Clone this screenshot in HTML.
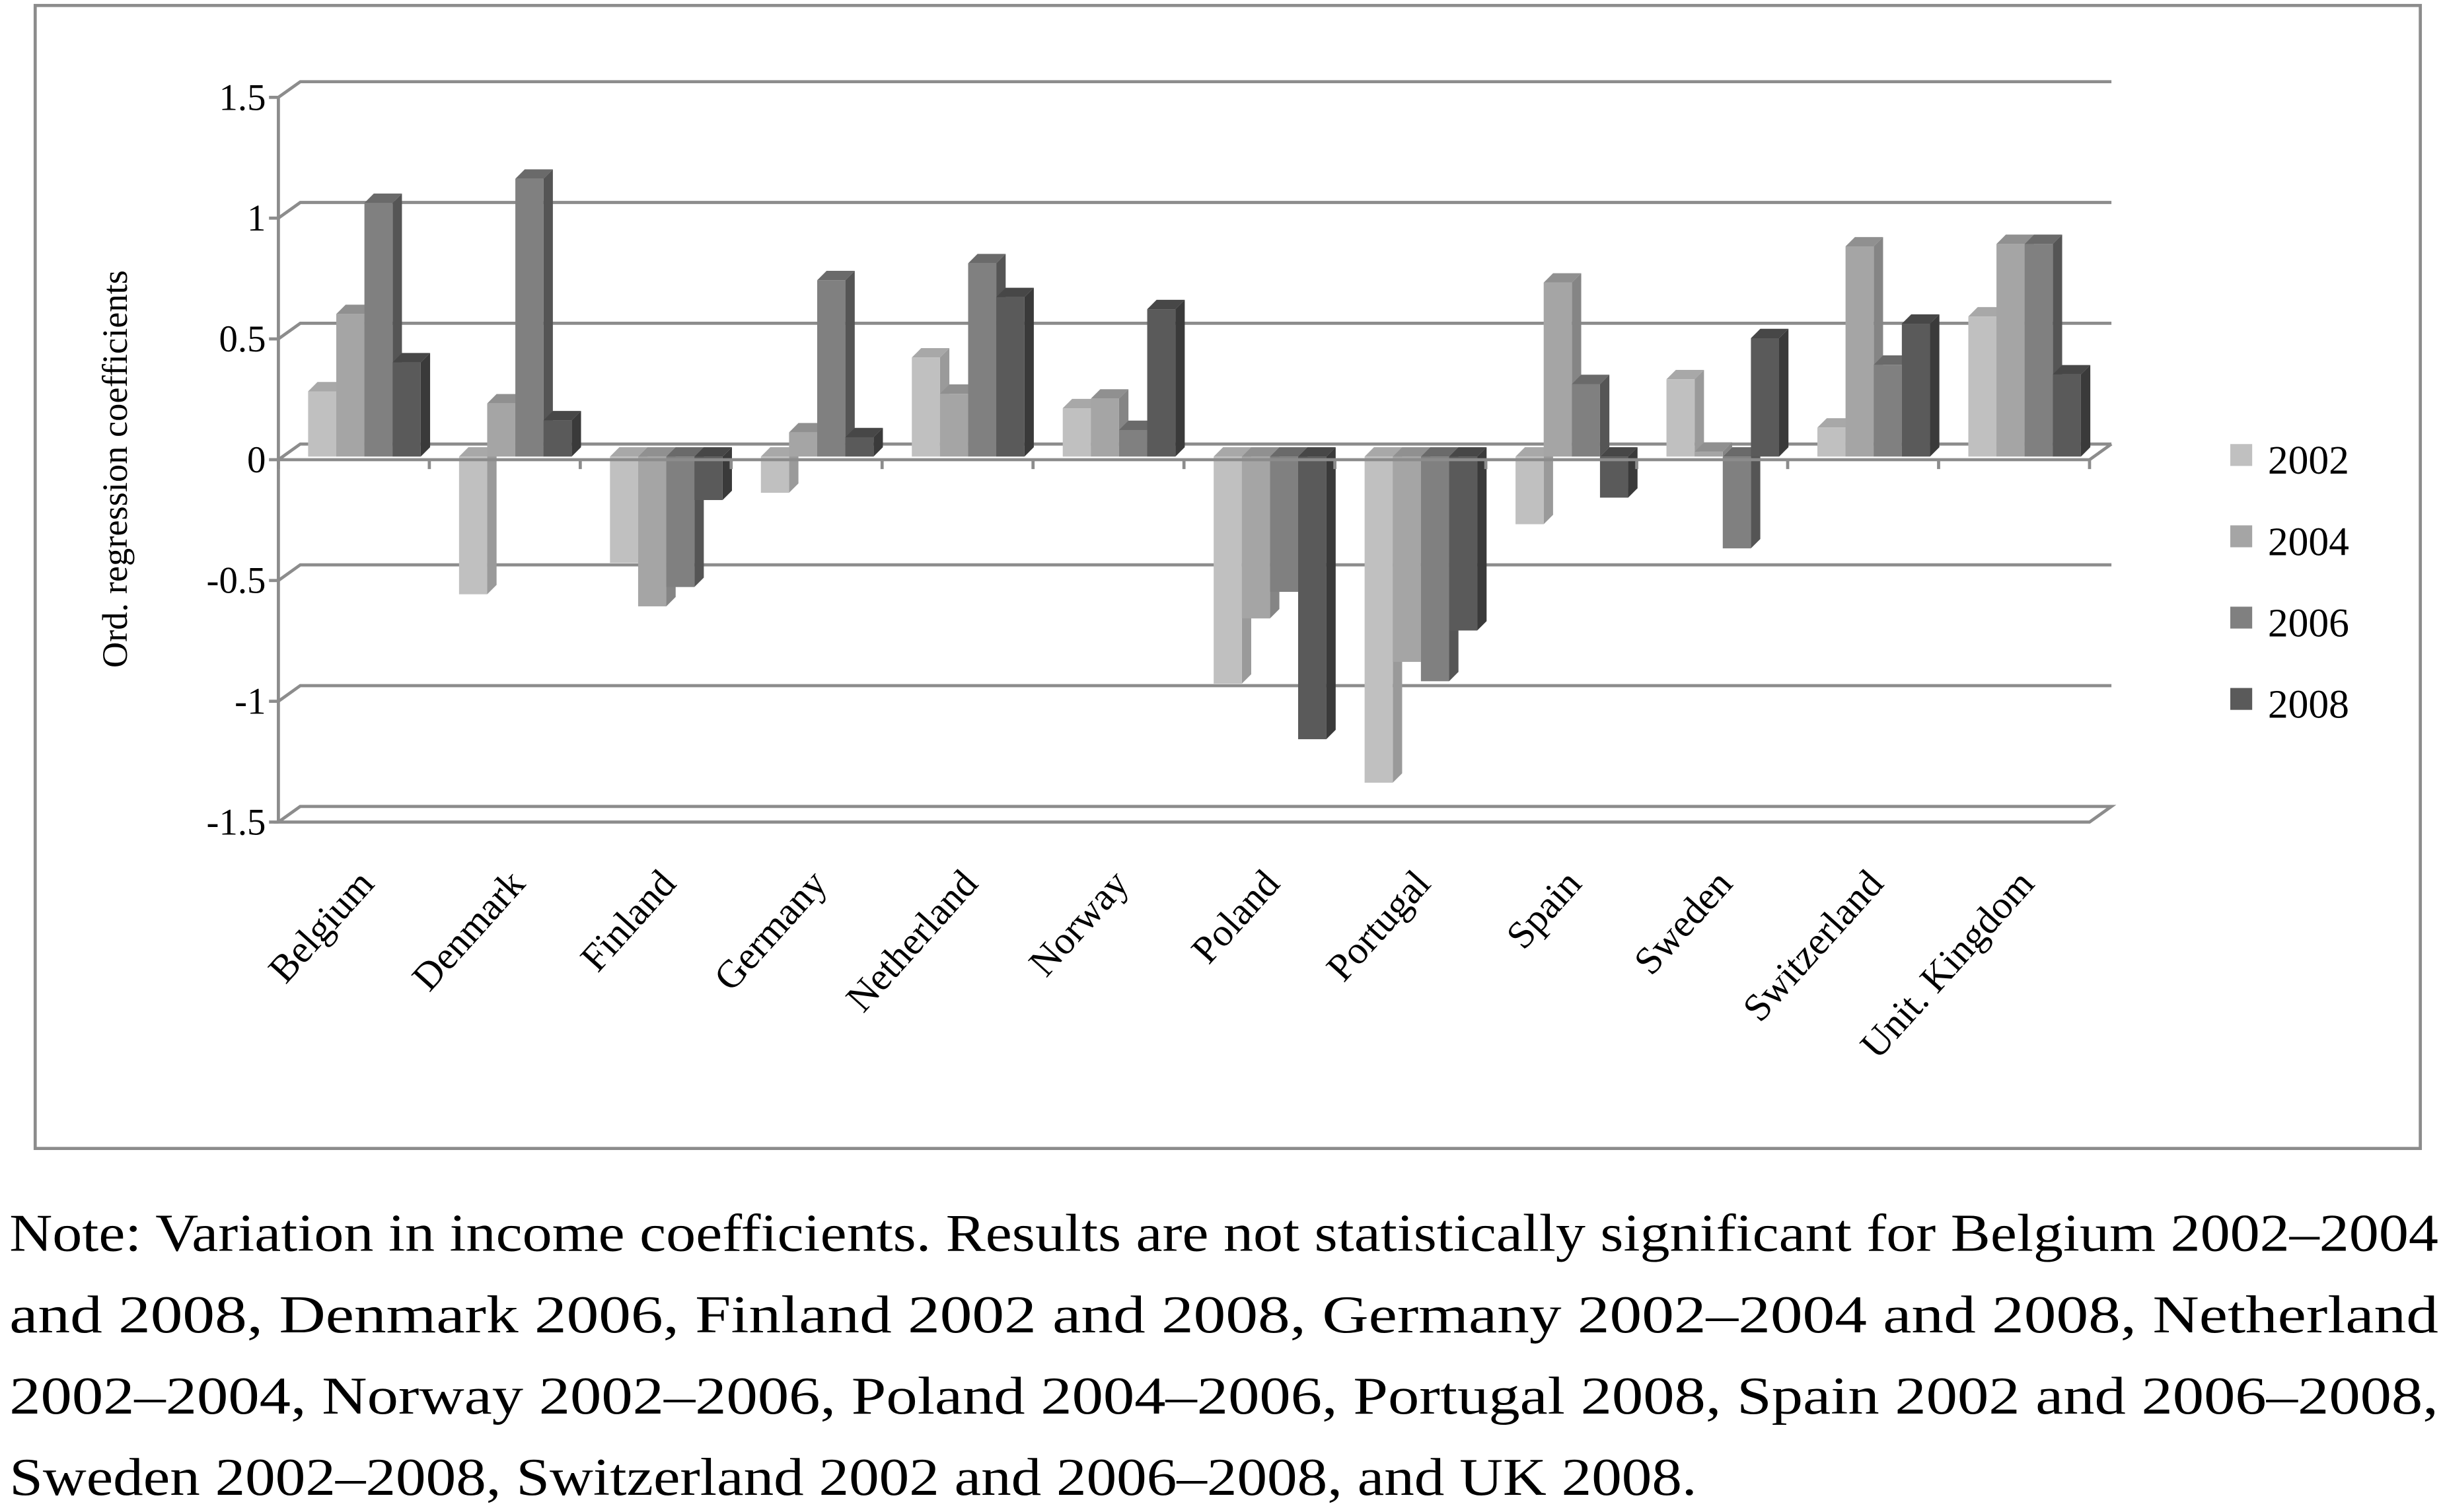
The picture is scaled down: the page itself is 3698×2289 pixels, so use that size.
<!DOCTYPE html>
<html><head><meta charset="utf-8"><style>
html,body{margin:0;padding:0;background:#fff;}
svg{display:block;}
text{font-family:"Liberation Serif","Times New Roman",serif;fill:#000;}
</style></head><body>
<svg id="chart" width="3698" height="2289" viewBox="0 0 1562 967" preserveAspectRatio="none" xmlns="http://www.w3.org/2000/svg" font-family="Liberation Serif, serif">
<rect x="22.5" y="3.5" width="1525" height="731" fill="#fff" stroke="#8c8c8c" stroke-width="2"/>
<g id="grid"></g>
<g id="bars"></g>
<g id="axes"></g>
<text transform="translate(81,300) rotate(-90)" text-anchor="middle" font-size="23">Ord. regression coefficients</text>
<g id="legend"></g>
<g font-size="34">
<text x="6" y="800" textLength="1553" lengthAdjust="spacingAndGlyphs">Note: Variation in income coefficients. Results are not statistically significant for Belgium 2002–2004</text>
<text x="6" y="852" textLength="1553" lengthAdjust="spacingAndGlyphs">and 2008, Denmark 2006, Finland 2002 and 2008, Germany 2002–2004 and 2008, Netherland</text>
<text x="6" y="904" textLength="1553" lengthAdjust="spacingAndGlyphs">2002–2004, Norway 2002–2006, Poland 2004–2006, Portugal 2008, Spain 2002 and 2006–2008,</text>
<text x="6" y="956" textLength="1079" lengthAdjust="spacingAndGlyphs">Sweden 2002–2008, Switzerland 2002 and 2006–2008, and UK 2008.</text>
</g>
</svg>
<script>
const categories=["Belgium","Denmark","Finland","Germany","Netherland","Norway","Poland","Portugal","Spain","Sweden","Switzerland","Unit. Kingdom"];
const seriesNames=["2002","2004","2006","2008"];
const s2002=[0.27,-0.57,-0.44,-0.15,0.41,0.20,-0.94,-1.35,-0.28,0.32,0.12,0.58];
const s2004=[0.59,0.22,-0.62,0.10,0.26,0.24,-0.67,-0.85,0.72,0.02,0.87,0.88];
const s2006=[1.05,1.15,-0.54,0.73,0.80,0.11,-0.56,-0.93,0.30,-0.38,0.38,0.88];
const s2008=[0.39,0.15,-0.18,0.08,0.66,0.61,-1.17,-0.72,-0.17,0.49,0.55,0.34];
const yTicks=[1.5,1,0.5,0,-0.5,-1,-1.5];
const yTickLabels=["1.5","1","0.5","0","-0.5","-1","-1.5"];

const NS="http://www.w3.org/2000/svg";
const series=[s2002,s2004,s2006,s2008];
const front=["#c0c0c0","#a5a5a5","#808080","#5a5a5a"];
const side=["#9a9a9a","#858585","#555555","#3a3a3a"];
const topc=["#a8a8a8","#909090","#6a6a6a","#474747"];
const X0=178,X1=1336,DX=14,DY=-10;
const y=v=>294-(v)*154.5;
const catW=(X1-X0)/categories.length;
const x=i=>X0+i*catW;
function mk(tag,attrs,parent){const e=document.createElementNS(NS,tag);for(const k in attrs)e.setAttribute(k,attrs[k]);parent.appendChild(e);return e;}
const grid=document.getElementById('grid'),bars=document.getElementById('bars'),axes=document.getElementById('axes'),legend=document.getElementById('legend');
yTicks.forEach((t,i)=>{
  const yy=y(t);
  const g=mk('polyline',{points:`${X0},${yy} ${X0+DX},${yy+DY} ${X1+DX},${yy+DY}`,fill:'none',stroke:'#8c8c8c','stroke-width':2},grid);
  
  
  const lb=mk('text',{x:X0-8,y:yy+8,'text-anchor':'end','font-size':24},axes);
  lb.textContent=yTickLabels[i];
  
  
  mk('line',{x1:X0-6,y1:yy,x2:X0,y2:yy,stroke:'#8c8c8c','stroke-width':2},axes);
});
const yb=y(-1.5);
mk('polygon',{points:`${X0},${yb} ${X0+DX},${yb+DY} ${X1+DX},${yb+DY} ${X1},${yb}`,fill:'#fff',stroke:'#8c8c8c','stroke-width':2},grid);
const bw=18,bd=6,off=19;
for(let c=0;c<categories.length;c++){
  for(let s=0;s<4;s++){
    const v=series[s][c];
    const bx=x(c)+off+s*bw;
    const y0=y(0)-2,y1=y(v)-2;
    const top=Math.min(y0,y1),bot=Math.max(y0,y1);
    const g=mk('g',{},bars);
    
    
    mk('polygon',{points:`${bx+bw},${top} ${bx+bw+bd},${top-bd} ${bx+bw+bd},${bot-bd} ${bx+bw},${bot}`,fill:side[s]},g);
    mk('polygon',{points:`${bx},${top} ${bx+bd},${top-bd} ${bx+bw+bd},${top-bd} ${bx+bw},${top}`,fill:topc[s]},g);
    mk('rect',{x:bx,y:top,width:bw,height:Math.max(bot-top,0.5),fill:front[s]},g);
  }
}
mk('line',{x1:X0,y1:y(1.5),x2:X0,y2:y(-1.5),stroke:'#8c8c8c','stroke-width':2},axes);
mk('line',{x1:X0,y1:y(0),x2:X1,y2:y(0),stroke:'#8c8c8c','stroke-width':2},axes);
mk('line',{x1:X1,y1:y(0),x2:X1+DX,y2:y(0)+DY,stroke:'#8c8c8c','stroke-width':2},axes);
for(let c=0;c<=categories.length;c++){mk('line',{x1:x(c),y1:y(0),x2:x(c),y2:y(0)+6,stroke:'#8c8c8c','stroke-width':2},axes);}
categories.forEach((n,c)=>{
  const cx=x(c)+catW/2+14;
  const t=mk('text',{x:cx,y:566,'text-anchor':'end','font-size':25,transform:`rotate(-48 ${cx} 566)`},axes);
  t.textContent=n;
  
  
});
seriesNames.forEach((n,s)=>{
  const ly=294+s*52;
  const g=mk('g',{},legend);
  
  
  mk('rect',{x:1426,y:ly-10,width:14,height:14,fill:front[s]},g);
  const t=mk('text',{x:1450,y:ly+9,'font-size':26},g);
  t.textContent=n;
});
</script>
</body></html>
